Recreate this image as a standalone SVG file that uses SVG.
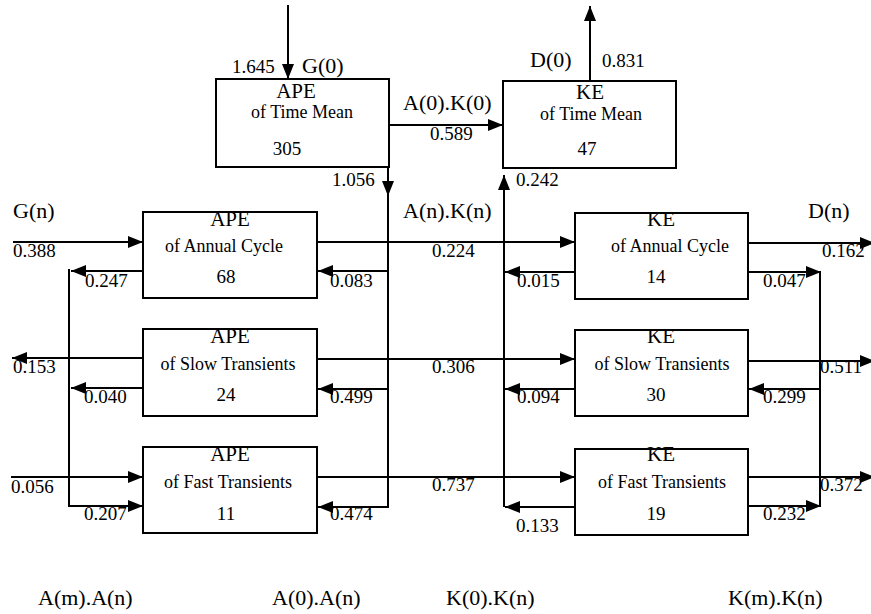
<svg xmlns="http://www.w3.org/2000/svg" width="871" height="614" viewBox="0 0 871 614">
<style>
.box{fill:#fff;stroke:#000;stroke-width:2}
.ln{fill:none;stroke:#000;stroke-width:2}
.a{marker-end:url(#ah)}
text{font-family:"Liberation Serif","Times New Roman",serif;fill:#000}
.t{font-size:21px;text-anchor:middle}
.s{font-size:18px;text-anchor:middle}
.v{font-size:19px;text-anchor:middle}
.n{font-size:19px}
.l{font-size:22px}
</style>
<defs>
<marker id="ah" markerUnits="userSpaceOnUse" markerWidth="15" markerHeight="12" refX="15" refY="6" orient="auto"><path d="M0,0 L15,6 L0,12 z" fill="#000"/></marker>
</defs>
<rect width="871" height="614" fill="#fff"/>
<g id="connectors">
<path class="ln a" d="M288,5 V79"/>
<path class="ln a" d="M389,125 H503"/>
<path class="ln a" d="M590,81 V6"/>
<path class="ln a" d="M388,167 V196"/>
<path class="ln a" d="M388,196 V507 H318"/>
<path class="ln a" d="M504,507 V175"/>
<path class="ln a" d="M13,242 H143"/>
<path class="ln a" d="M143,271 H71"/>
<path class="ln a" d="M69,269 V506 H143"/>
<path class="ln a" d="M143,358 H12"/>
<path class="ln a" d="M143,388 H71"/>
<path class="ln a" d="M11,477 H143"/>
<path class="ln a" d="M317,242 H575"/>
<path class="ln a" d="M388,271 H318"/>
<path class="ln a" d="M317,359 H575"/>
<path class="ln a" d="M388,389 H318"/>
<path class="ln a" d="M317,477 H575"/>
<path class="ln a" d="M575,272 H505"/>
<path class="ln a" d="M575,389 H505"/>
<path class="ln a" d="M575,507 H505"/>
<path class="ln a" d="M748,243 H875"/>
<path class="ln a" d="M748,272 H821"/>
<path class="ln" d="M820,272 V506"/>
<path class="ln a" d="M748,361 H875"/>
<path class="ln a" d="M820,389 H749"/>
<path class="ln a" d="M748,477 H875"/>
<path class="ln a" d="M748,506 H821"/>
</g>
<g id="ape-mean">
<rect class="box" x="216" y="79" width="173" height="88"/>
<text class="t" x="296" y="98">APE</text>
<text class="s" x="302" y="118">of Time Mean</text>
<text class="v" x="287" y="155">305</text>
</g>
<g id="ke-mean">
<rect class="box" x="503" y="81" width="173" height="87"/>
<text class="t" x="590" y="99">KE</text>
<text class="s" x="591" y="120">of Time Mean</text>
<text class="v" x="587" y="155">47</text>
</g>
<g id="ape-annual">
<rect class="box" x="143" y="212" width="174" height="86"/>
<text class="t" x="230" y="226">APE</text>
<text class="s" x="224" y="252">of Annual Cycle</text>
<text class="v" x="226" y="283">68</text>
</g>
<g id="ape-slow">
<rect class="box" x="143" y="329" width="174" height="87"/>
<text class="t" x="230" y="343">APE</text>
<text class="s" x="228" y="370">of Slow Transients</text>
<text class="v" x="226" y="401">24</text>
</g>
<g id="ape-fast">
<rect class="box" x="143" y="447" width="174" height="86"/>
<text class="t" x="230" y="461">APE</text>
<text class="s" x="228" y="488">of Fast Transients</text>
<text class="v" x="226" y="520">11</text>
</g>
<g id="ke-annual">
<rect class="box" x="575" y="213" width="173" height="86"/>
<text class="t" x="661" y="226">KE</text>
<text class="s" x="670" y="252">of Annual Cycle</text>
<text class="v" x="656" y="283">14</text>
</g>
<g id="ke-slow">
<rect class="box" x="575" y="330" width="173" height="86"/>
<text class="t" x="661" y="343">KE</text>
<text class="s" x="662" y="370">of Slow Transients</text>
<text class="v" x="656" y="401">30</text>
</g>
<g id="ke-fast">
<rect class="box" x="575" y="449" width="173" height="86"/>
<text class="t" x="661" y="461">KE</text>
<text class="s" x="662" y="488">of Fast Transients</text>
<text class="v" x="656" y="520">19</text>
</g>
<g id="labels">
<text class="n" x="232" y="73">1.645</text>
<text class="l" x="302" y="73">G(0)</text>
<text class="n" x="332" y="186">1.056</text>
<text class="l" x="530" y="67">D(0)</text>
<text class="n" x="602" y="67">0.831</text>
<text class="l" x="403" y="110">A(0).K(0)</text>
<text class="n" x="430" y="140">0.589</text>
<text class="n" x="516" y="186">0.242</text>
<text class="l" x="13" y="218">G(n)</text>
<text class="n" x="13" y="257">0.388</text>
<text class="n" x="85" y="287">0.247</text>
<text class="n" x="13" y="373">0.153</text>
<text class="n" x="84" y="403">0.040</text>
<text class="n" x="11" y="493">0.056</text>
<text class="n" x="84" y="520">0.207</text>
<text class="n" x="330" y="287">0.083</text>
<text class="n" x="330" y="403">0.499</text>
<text class="n" x="330" y="520">0.474</text>
<text class="l" x="403" y="218">A(n).K(n)</text>
<text class="n" x="432" y="257">0.224</text>
<text class="n" x="432" y="373">0.306</text>
<text class="n" x="432" y="491">0.737</text>
<text class="n" x="517" y="287">0.015</text>
<text class="n" x="517" y="403">0.094</text>
<text class="n" x="516" y="532">0.133</text>
<text class="l" x="808" y="218">D(n)</text>
<text class="n" x="822" y="257">0.162</text>
<text class="n" x="763" y="287">0.047</text>
<text class="n" x="820" y="373">0.511</text>
<text class="n" x="763" y="403">0.299</text>
<text class="n" x="820" y="491">0.372</text>
<text class="n" x="763" y="520">0.232</text>
<text class="l" x="38" y="605">A(m).A(n)</text>
<text class="l" x="272" y="605">A(0).A(n)</text>
<text class="l" x="446" y="605">K(0).K(n)</text>
<text class="l" x="728" y="605">K(m).K(n)</text>
</g>
</svg>
